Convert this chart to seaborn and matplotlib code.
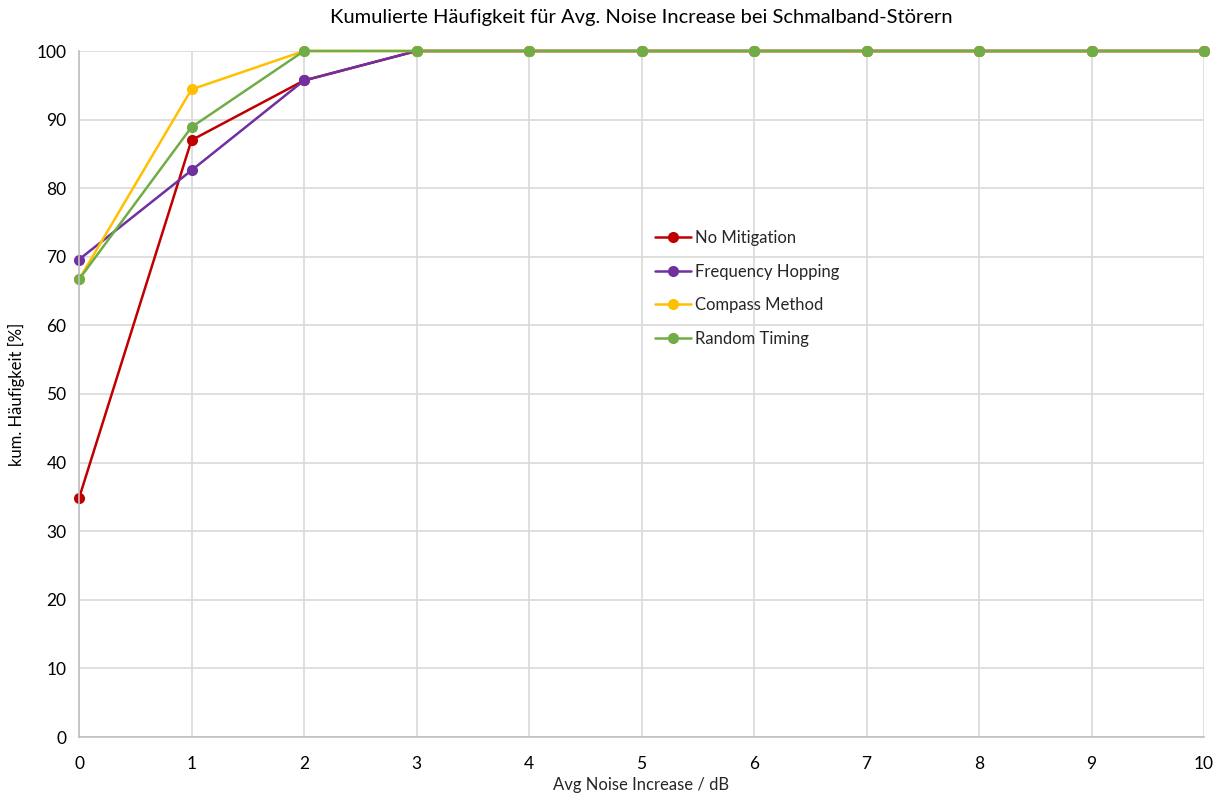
import matplotlib
matplotlib.use("Agg")
import matplotlib.pyplot as plt
import seaborn as sns
import pandas as pd

x_vals = [0, 1, 2, 3, 4, 5, 6, 7, 8, 9, 10]
series_names = ["No Mitigation", "Frequency Hopping", "Compass Method", "Random Timing"]
no_mitigation = [34.8, 87.0, 95.7, 100, 100, 100, 100, 100, 100, 100, 100]
frequency_hopping = [69.6, 82.6, 95.7, 100, 100, 100, 100, 100, 100, 100, 100]
compass_method = [66.7, 94.4, 100, 100, 100, 100, 100, 100, 100, 100, 100]
random_timing = [66.7, 88.9, 100, 100, 100, 100, 100, 100, 100, 100, 100]
colors = ["#C00000", "#7030A0", "#FFC000", "#70AD47"]

rows = []
for name, vals in zip(series_names, [no_mitigation, frequency_hopping, compass_method, random_timing]):
    for xv, yv in zip(x_vals, vals):
        rows.append({"x": xv, "y": yv, "series": name})
df = pd.DataFrame(rows)

sns.set_theme(style="white")
plt.rcParams["font.family"] = ["Lato", "DejaVu Sans"]

fig = plt.figure(figsize=(12.22, 7.93), dpi=100)
ax = fig.add_axes([79/1222, 1-737/793, (1204-79)/1222, (737-51)/793])

sns.lineplot(data=df, x="x", y="y", hue="series", hue_order=series_names,
             palette=colors, marker="o", markersize=8, markeredgewidth=0,
             linewidth=1.8, ax=ax, legend=True, clip_on=False)

ax.set_xlim(0, 10)
ax.set_ylim(0, 100)
ax.set_xticks(range(0, 11))
ax.set_yticks(range(0, 101, 10))
ax.grid(True, color="#D9D9D9", linewidth=1.2)
ax.set_axisbelow(True)
for s in ["top", "right"]:
    ax.spines[s].set_visible(False)
for s in ["left", "bottom"]:
    ax.spines[s].set_color("#BFBFBF")
    ax.spines[s].set_linewidth(1.2)
ax.tick_params(axis="y", labelsize=12.5, colors="#000000", length=0, pad=9)
ax.tick_params(axis="x", labelsize=12.5, colors="#000000", length=0, pad=14)
ax.set_xlabel("Avg Noise Increase / dB", fontsize=12, color="#262626", labelpad=3)
ax.set_ylabel("kum. Häufigkeit [%]", fontsize=12, color="#000000", labelpad=8)
ax.set_title("Kumulierte Häufigkeit für Avg. Noise Increase bei Schmalband-Störern",
             fontsize=14.5, color="#000000", pad=20)

handles, labels = ax.get_legend_handles_labels()
ax.legend(handles, labels, loc="upper left", bbox_to_anchor=(648/1222, 1-223/793),
          bbox_transform=fig.transFigure, frameon=False, fontsize=12,
          labelspacing=1.07, handlelength=2.2, handletextpad=0.2, borderaxespad=0)

fig.savefig("out.png", dpi=100, facecolor="white")
